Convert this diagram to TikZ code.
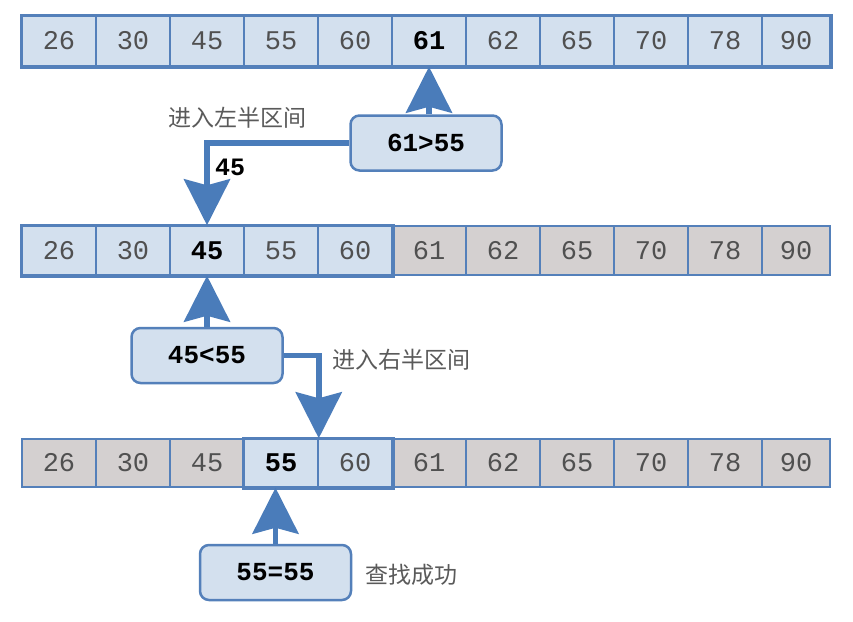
\documentclass[tikz,border=0pt]{standalone}
\usepackage{fontspec}
\setmonofont{Liberation Mono}
\newfontfamily\cjk{Noto Sans CJK SC}
\usetikzlibrary{arrows.meta}
\definecolor{cellblue}{RGB}{211,224,238}
\definecolor{cellgray}{RGB}{212,208,208}
\definecolor{edgeblue}{RGB}{84,128,186}
\definecolor{arrowblue}{RGB}{74,124,186}
\definecolor{numgray}{RGB}{80,80,80}
\definecolor{labgray}{RGB}{90,90,90}
\newcommand\mkrow[6]{%
  \foreach \v [count=\i] in {26,30,45,55,60,61,62,65,70,78,90} {%
    \pgfmathsetmacro\cx{\i<11 ? 74*\i-15 : 796}%
    \pgfmathsetmacro\cw{\i<11 ? 74 : 68}%
    \ifnum\i<#4 \def\fc{cellgray}\else\ifnum\i>#5 \def\fc{cellgray}\else\def\fc{cellblue}\fi\fi
    \node[cell, fill=\fc, minimum width=\cw pt, minimum height=#3pt] (#1c\i) at (\cx,#2)
      {\ifnum\i=#6 \textcolor{black}{\textbf{\v}}\else\v\fi};
  }%
}
\begin{document}
\begin{tikzpicture}[x=1pt,y=-1pt,
  cell/.style={draw=edgeblue, line width=1.5pt, inner sep=0pt,
    font=\ttfamily\fontsize{27}{27}\selectfont, text=numgray},
  frame/.style={draw=edgeblue, line width=3.5pt},
  cbox/.style={draw=edgeblue, fill=cellblue, line width=2.5pt, rounded corners=9pt,
    minimum width=151pt, minimum height=55pt, inner sep=0pt,
    font=\ttfamily\bfseries\fontsize{26}{26}\selectfont, text=black},
  arr/.style={draw=arrowblue, line width=5.5pt,
    -{Stealth[length=46pt,width=46pt,inset=6pt]}},
  lab/.style={font=\cjk\fontsize{23}{23}\selectfont, text=labgray, inner sep=0pt},
  numlab/.style={font=\ttfamily\bfseries\fontsize{25}{25}\selectfont, text=black, inner sep=0pt}]
\useasboundingbox[fill=white] (0,0) rectangle (853,621);
% rows
\mkrow{r1}{41}{50}{1}{11}{6}
\mkrow{r2}{250.5}{49}{1}{5}{3}
\mkrow{r3}{463}{48}{4}{5}{4}
\draw[frame] (r1c1.north west) rectangle (r1c11.south east);
\draw[frame] (r2c1.north west) rectangle (r2c5.south east);
\draw[frame] (r3c4.north west) rectangle (r3c5.south east);
% comparison boxes
\node[cbox] (b1) at (426,143) {61>55};
\node[cbox] (b2) at (207,355.5) {45<55};
\node[cbox] (b3) at (275.5,572.5) {55=55};
% labels
\node[lab] (l1) at (237,118) {进入左半区间};
\node[numlab] (l45) at (230,167) {45};
\node[lab] (l2) at (401,360) {进入右半区间};
\node[lab, anchor=west] (l3) at (365,575) {查找成功};
% arrows
\draw[arr] (r1c6.south |- b1.north) -- (r1c6.south);
\draw[arr] (b1.west) -| (r2c3.north);
\draw[arr] (b2.north) -- (r2c3.south);
\draw[arr] (b2.east) -| (r3c4.north east);
\draw[arr] (b3.north) -- (b3.north |- r3c4.south);
\end{tikzpicture}
\end{document}
